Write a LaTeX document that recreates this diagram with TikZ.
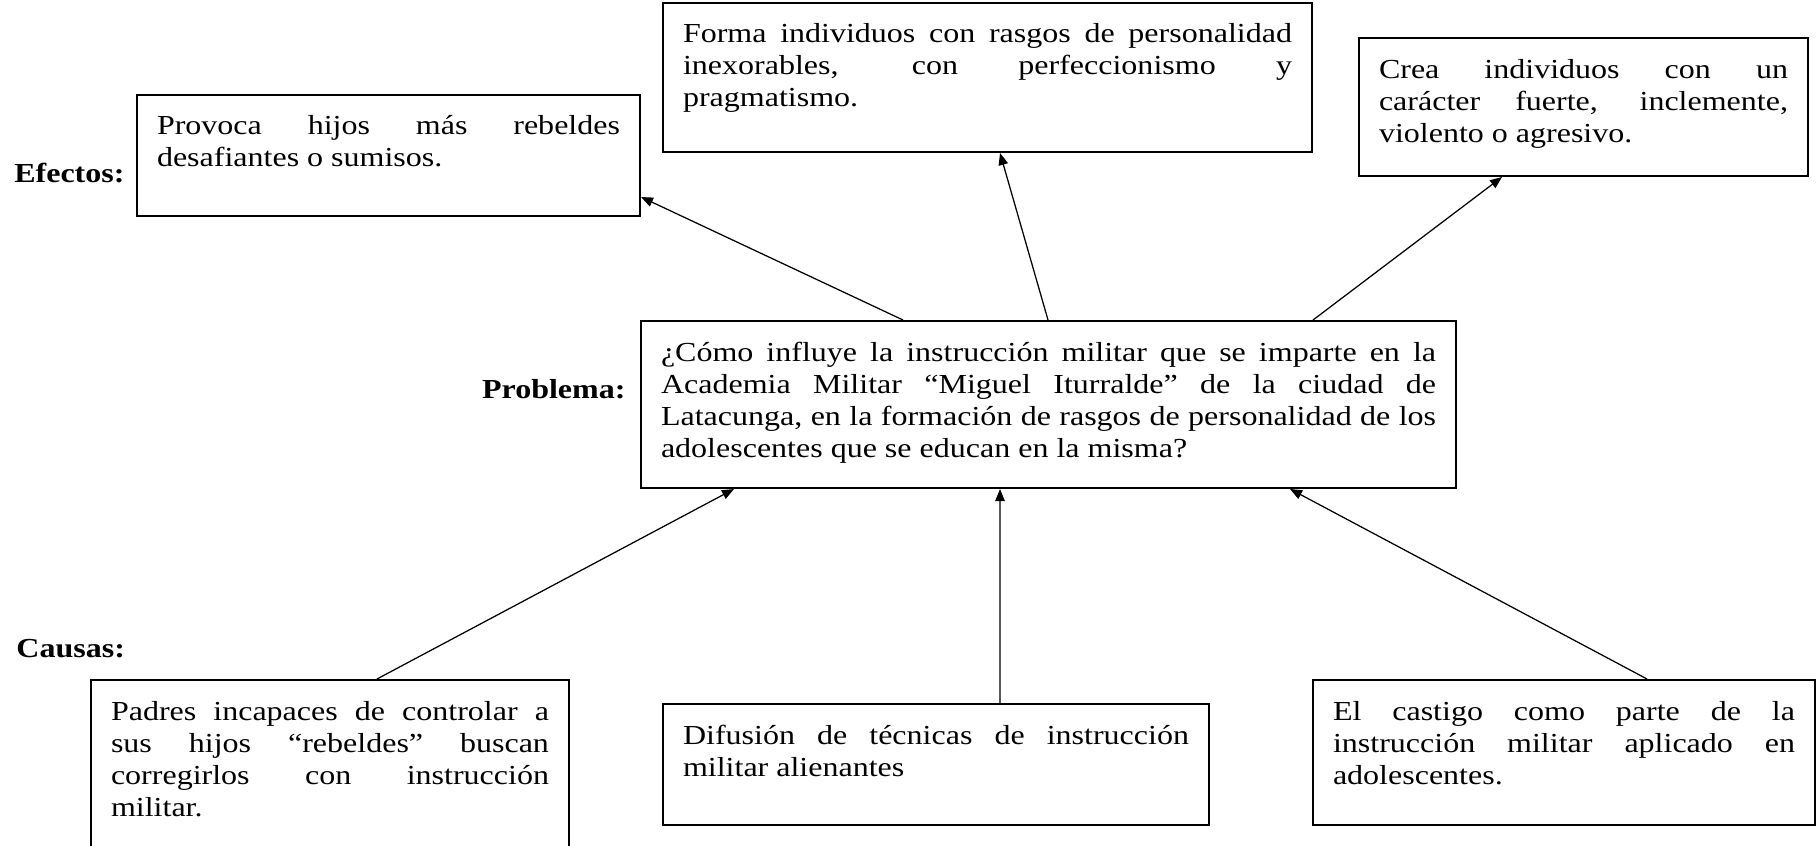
\documentclass[tikz,border=0pt]{standalone}
\usepackage{fontspec}
\setmainfont{Liberation Serif}[FakeStretch=1.164]
\usetikzlibrary{positioning, arrows.meta}

\tikzset{
  caja/.style={draw, line width=0.8pt, anchor=north west, align=justify,
    inner xsep=8pt, inner ysep=6pt, text height=10pt,
    font=\fontsize{11}{12.8}\selectfont},
  etiqueta/.style={inner sep=0pt, font=\fontsize{11}{12.8}\selectfont\bfseries},
  flecha/.style={-{Triangle[length=4.8pt, width=3.8pt]}, line width=0.5pt}
}

\begin{document}
\begin{tikzpicture}[x=0.4pt, y=-0.4pt]
  \useasboundingbox (0,0) rectangle (1819,846);

  % Efectos
  \node[etiqueta, anchor=base east] (lblEfectos) at (125,182) {Efectos:};
  \node[caja, text width=185.2pt, text depth=26.4pt] (efecto1) at (136,94)
    {Provoca hijos más rebeldes\linebreak desafiantes o sumisos.};
  \node[caja, text width=243.6pt, text depth=37.6pt] (efecto2) at (662,2)
    {Forma individuos con rasgos de personalidad\linebreak inexorables, con perfeccionismo y\linebreak pragmatismo.};
  \node[caja, text width=163.6pt, text depth=33.2pt] (efecto3) at (1358,37)
    {Crea individuos con un\linebreak carácter fuerte, inclemente,\linebreak violento o agresivo.};

  % Problema
  \node[etiqueta, anchor=base east] (lblProblema) at (626,398) {Problema:};
  \node[caja, text width=310pt, text depth=44.8pt] (problema) at (640,320)
    {¿Cómo influye la instrucción militar que se imparte en la\linebreak Academia Militar “Miguel Iturralde” de la ciudad de\linebreak Latacunga, en la formación de rasgos de personalidad de los\linebreak adolescentes que se educan en la misma?};

  % Causas
  \node[etiqueta, anchor=base west] (lblCausas) at (16,657) {Causas:};
  \node[caja, text width=175.2pt, text depth=50.4pt] (causa1) at (90,679)
    {Padres incapaces de controlar a\linebreak sus hijos “rebeldes” buscan\linebreak corregirlos con instrucción\linebreak militar.};
  \node[caja, text width=202.4pt, text depth=26.4pt] (causa2) at (662,703)
    {Difusión de técnicas de instrucción\linebreak militar alienantes};
  \node[caja, text width=184.8pt, text depth=36pt] (causa3) at (1312,679)
    {El castigo como parte de la\linebreak instrucción militar aplicado en\linebreak adolescentes.};

  % Flechas hacia los efectos
  \draw[flecha] ([xshift=105.2pt]problema.north west) -- ([yshift=8pt]efecto1.south east);
  \draw[flecha] ([xshift=163.2pt]problema.north west) -- ([xshift=135.2pt]efecto2.south west);
  \draw[flecha] ([xshift=-57.6pt]problema.north east) -- ([xshift=57.6pt]efecto3.south west);

  % Flechas desde las causas
  \draw[flecha] ([xshift=114.8pt]causa1.north west) -- ([xshift=37.6pt]problema.south west);
  \draw[flecha] ([xshift=135.2pt]causa2.north west) -- ([xshift=144pt]problema.south west);
  \draw[flecha] ([xshift=134pt]causa3.north west) -- ([xshift=260pt]problema.south west);
\end{tikzpicture}
\end{document}
